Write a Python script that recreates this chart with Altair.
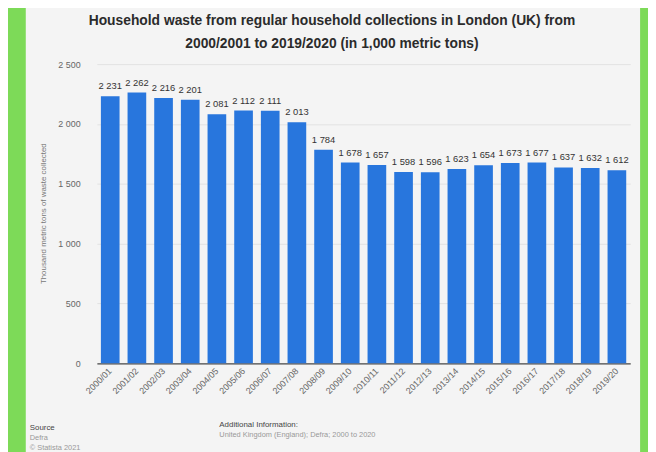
import altair as alt
import pandas as pd

years = ["2000/01", "2001/02", "2002/03", "2003/04", "2004/05", "2005/06", "2006/07",
         "2007/08", "2008/09", "2009/10", "2010/11", "2011/12", "2012/13", "2013/14",
         "2014/15", "2015/16", "2016/17", "2017/18", "2018/19", "2019/20"]
waste = [2231, 2262, 2216, 2201, 2081, 2112, 2111, 2013, 1784, 1678,
         1657, 1598, 1596, 1623, 1654, 1673, 1677, 1637, 1632, 1612]
y_ticks = [0, 500, 1000, 1500, 2000, 2500]

title_lines = ["Household waste from regular household collections in London (UK) from",
               "2000/2001 to 2019/2020 (in 1,000 metric tons)"]
y_title = "Thousand metric tons of waste collected"

df = pd.DataFrame({"year": years, "waste": waste})
dummy = pd.DataFrame({"k": [0]})

FONT = "Liberation Sans"
GREEN = "#7DDA58"
PANEL = "#F4F4F4"
BLUE = "#2876DD"

x_enc = alt.X("year:N", sort=years,
              scale=alt.Scale(paddingInner=0.3, paddingOuter=0.15),
              axis=alt.Axis(title=None, labelAngle=315, labelAlign="right",
                            labelBaseline="middle", labelPadding=6, ticks=False,
                            labelFontSize=9, labelColor="#666666", labelFont=FONT,
                            domainColor="#4A4A4A", domainWidth=1.2, grid=False))
y_enc = alt.Y("waste:Q", scale=alt.Scale(domain=[0, 2500], nice=False),
              axis=alt.Axis(title=y_title, values=y_ticks,
                            labelExpr="replace(format(datum.value, ','), ',', ' ')",
                            labelFontSize=9, labelColor="#666666", labelFont=FONT,
                            labelPadding=17, ticks=False, domain=False,
                            gridColor="#E2E2E2", gridWidth=1,
                            titleFontSize=8, titleColor="#777777", titleFont=FONT,
                            titleFontWeight="normal", titleX=-54, titleY=151,
                            titleAngle=270, titleAlign="center", titleBaseline="middle"))

left_strip = alt.Chart(dummy).mark_rect(color=GREEN).encode(
    x=alt.value(-92), x2=alt.value(-72), y=alt.value(-60), y2=alt.value(400))
right_strip = alt.Chart(dummy).mark_rect(color=GREEN).encode(
    x=alt.value(550), x2=alt.value(560), y=alt.value(-60), y2=alt.value(400))

bars = alt.Chart(df).mark_bar(color=BLUE).encode(x=x_enc, y=y_enc)

labels = alt.Chart(df).transform_calculate(
    lab="replace(format(datum.waste, ','), ',', ' ')"
).mark_text(baseline="bottom", dy=-5, fontSize=9.5, color="#333333", font=FONT).encode(
    x=alt.X("year:N", sort=years), y="waste:Q", text="lab:N")

def txt(t, x, y, color="#999999", weight="normal", size=7.5, align="left"):
    return alt.Chart(dummy).mark_text(align=align, baseline="middle", fontSize=size,
                                      color=color, fontWeight=weight, font=FONT).encode(
        x=alt.value(x), y=alt.value(y), text=alt.value(t))

titles = [
    txt(title_lines[0], 238, -43.5, color="#2B2B2B", weight="bold", size=14, align="center"),
    txt(title_lines[1], 238, -20.5, color="#2B2B2B", weight="bold", size=14, align="center"),
]

footers = [
    txt("Source", -68, 369, color="#444444", size=8),
    txt("Defra", -68, 379),
    txt("© Statista 2021", -68, 389),
    txt("Additional Information:", 124, 365, color="#444444", size=8),
    txt("United Kingdom (England); Defra; 2000 to 2020", 124, 376),
]

chart = alt.layer(left_strip, right_strip, bars, labels, *titles, *footers).properties(
    width=540, height=303,
    padding={"left": 90, "top": 54, "right": 18, "bottom": 87},
    autosize=alt.AutoSizeParams(type="none"),
).configure(background=PANEL).configure_view(stroke=None)

chart.save("out.html", embed_options={"renderer": "svg", "actions": False})
